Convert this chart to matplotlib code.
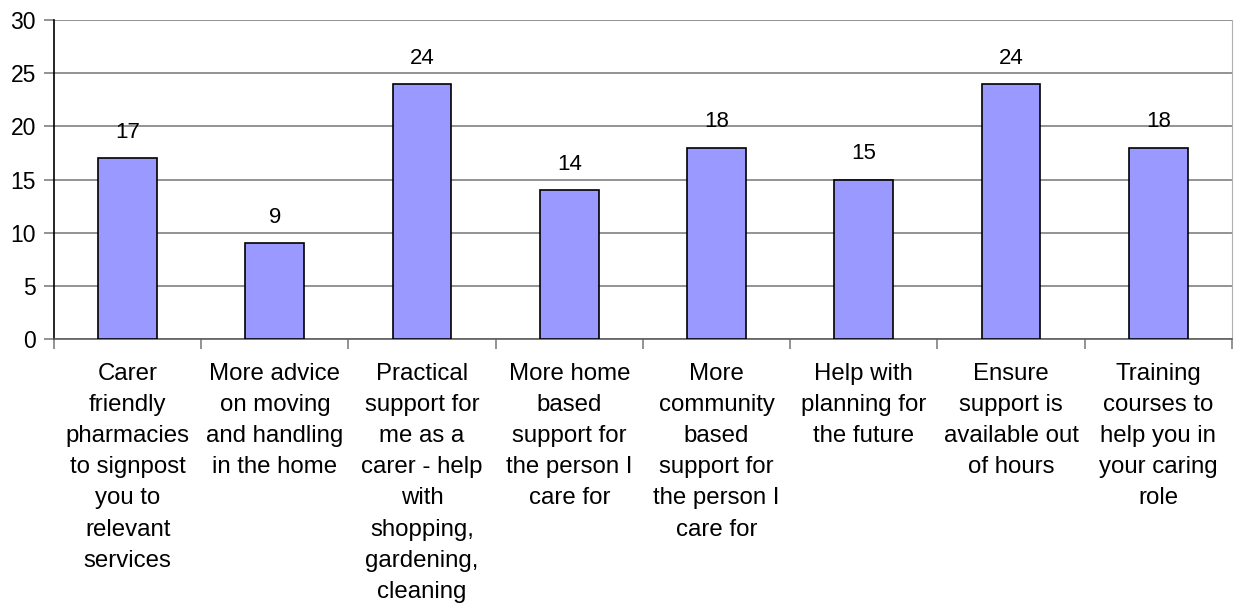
import numpy as np
import matplotlib.pyplot as plt

plt.rcParams['font.family'] = ['Liberation Sans', 'DejaVu Sans']

labels = [
    "Carer\nfriendly\npharmacies\nto signpost\nyou to\nrelevant\nservices",
    "More advice\non moving\nand handling\nin the home",
    "Practical\nsupport for\nme as a\ncarer - help\nwith\nshopping,\ngardening,\ncleaning",
    "More home\nbased\nsupport for\nthe person I\ncare for",
    "More\ncommunity\nbased\nsupport for\nthe person I\ncare for",
    "Help with\nplanning for\nthe future",
    "Ensure\nsupport is\navailable out\nof hours",
    "Training\ncourses to\nhelp you in\nyour caring\nrole",
]
values = [17, 9, 24, 14, 18, 15, 24, 18]

fig = plt.figure(figsize=(12.38, 6.11), dpi=100)
ax = fig.add_axes([0.0436, 0.445, 0.9514, 0.522])

x = np.arange(len(values))
ax.bar(x, values, width=0.4, color='#9999FF', edgecolor='black', linewidth=1.2, zorder=3)

# value labels above the bars
for xi, v in zip(x, values):
    ax.annotate(str(v), (xi, v), xytext=(0, 11), textcoords='offset points',
                ha='center', va='bottom', fontsize=16)

ax.set_xlim(-0.5, len(values) - 0.5)
ax.set_ylim(0, 30)
ax.set_yticks(range(0, 31, 5))
ax.yaxis.grid(True, color='#808080', linewidth=1.2, zorder=0)
ax.set_axisbelow(True)

ax.set_xticks(x)
ax.set_xticklabels(labels, fontsize=17.3, linespacing=1.54)
ax.set_xticks(np.arange(-0.5, len(values)), minor=True)
ax.tick_params(axis='x', which='major', length=0, pad=17)
ax.tick_params(axis='x', which='minor', length=7, color='#808080', width=1.2)
ax.tick_params(axis='y', length=7, width=1.2, labelsize=16.5, pad=6, color='#808080')

ax.spines['top'].set_visible(False)
ax.spines['left'].set_color('black')
ax.spines['left'].set_linewidth(1.2)
ax.spines['bottom'].set_color('#606060')
ax.spines['bottom'].set_linewidth(1.2)
ax.spines['right'].set_color('#b0b0b0')

fig.savefig('out.png', dpi=100)
